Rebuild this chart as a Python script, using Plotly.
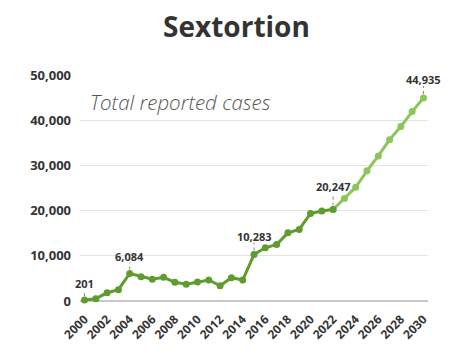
import plotly.graph_objects as go

years_hist = list(range(2000, 2023))
cases_hist = [201, 510, 1830, 2500, 6084, 5370, 4800, 5230, 4130, 3700,
              4200, 4640, 3380, 5150, 4640, 10283, 11770, 12500, 15080, 15830,
              19360, 19900, 20247]
years_proj = list(range(2022, 2031))
cases_proj = [20247, 22700, 25150, 28800, 32100, 35700, 38600, 41900, 44935]

label_years = [2000, 2004, 2015, 2022, 2030]
label_shift = [5, 6, 7, 11, 7]
x_ticks = list(range(2000, 2031, 2))
y_ticks = [0, 10000, 20000, 30000, 40000, 50000]

DARK = "#5e9c2f"
LIGHT = "#8cc55a"
TXT = "#333333"
FONT = "Open Sans"

all_years = years_hist + years_proj[1:]
all_cases = cases_hist + cases_proj[1:]

fig = go.Figure()
fig.add_trace(go.Scatter(x=years_proj, y=cases_proj, mode="lines+markers",
                         line=dict(color=LIGHT, width=3),
                         marker=dict(color=LIGHT, size=7),
                         cliponaxis=False, hoverinfo="skip"))
fig.add_trace(go.Scatter(x=years_hist, y=cases_hist, mode="lines+markers",
                         line=dict(color=DARK, width=3),
                         marker=dict(color=DARK, size=7),
                         cliponaxis=False, hoverinfo="skip"))

for yr, sh in zip(label_years, label_shift):
    v = all_cases[all_years.index(yr)]
    fig.add_shape(type="line", xref="x", yref="y", x0=yr, x1=yr,
                  ysizemode="pixel", yanchor=v, y0=4, y1=sh + 5,
                  line=dict(color="#888888", width=1, dash="dot"))
    fig.add_annotation(x=yr, y=v, text=f"{v:,}", showarrow=False,
                       yanchor="bottom", yshift=sh + 2,
                       font=dict(family=FONT, size=11, color=TXT, weight="bold"))

fig.add_annotation(xref="paper", yref="paper", x=0.022, y=0.88,
                   xanchor="left", yanchor="middle", showarrow=False,
                   text="Total reported cases",
                   font=dict(family=FONT, size=20.5, color="#555555",
                             style="italic", weight=300))

fig.update_layout(
    width=474, height=355,
    margin=dict(l=72, r=54, t=67, b=62),
    paper_bgcolor="white", plot_bgcolor="white",
    showlegend=False,
    title=dict(text="Sextortion", x=0.482, xanchor="center", y=0.945, yanchor="middle",
               font=dict(family=FONT, size=28, color=TXT, weight="bold")),
    xaxis=dict(range=[1999.6, 2030.4], tickvals=x_ticks, tickangle=-45,
               showgrid=False, zeroline=False, showline=False,
               ticklabelstandoff=8,
               tickfont=dict(family=FONT, size=12, color=TXT, weight="bold")),
    yaxis=dict(range=[0, 50000], tickvals=y_ticks, tickformat=",",
               showgrid=True, gridcolor="#e3e3e3", gridwidth=1,
               zeroline=True, zerolinecolor="#c8c8c8", zerolinewidth=2,
               showline=False, ticklabelstandoff=8,
               tickfont=dict(family=FONT, size=13, color=TXT, weight="bold")),
)

fig.write_html("out.html")
